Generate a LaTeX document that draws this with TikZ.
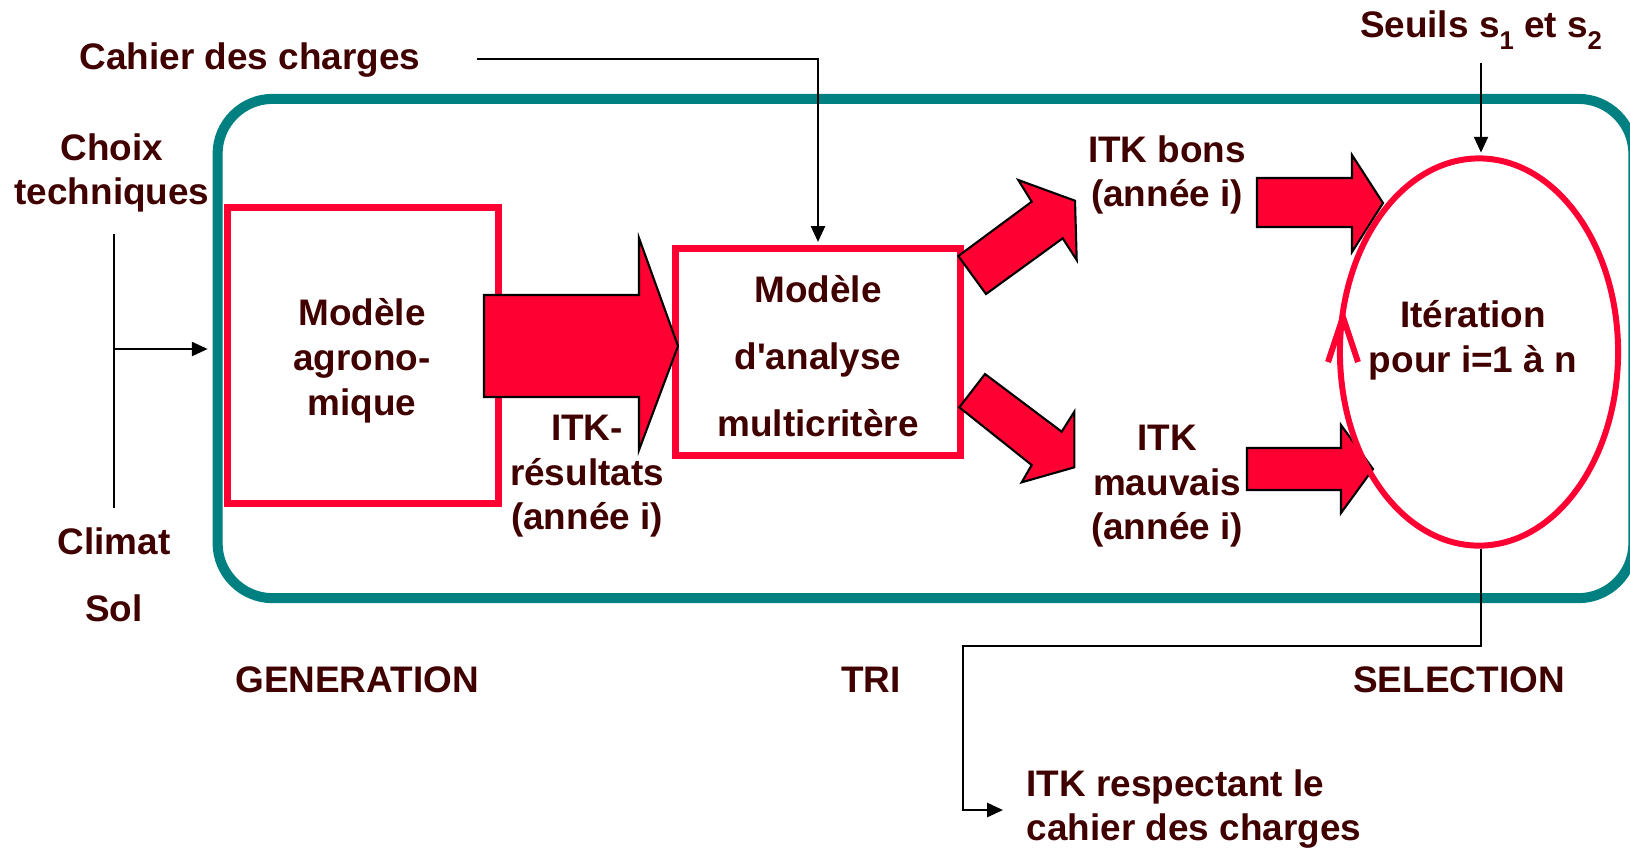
\documentclass[tikz,border=0pt]{standalone}
\usepackage{fontspec}
\setmainfont{Liberation Sans}
\usetikzlibrary{arrows.meta,shapes.geometric}
\definecolor{txt}{RGB}{64,0,0}
\definecolor{rouge}{RGB}{255,0,51}
\definecolor{tealc}{RGB}{0,128,128}
\newcommand{\subidx}[1]{\raisebox{-3.4pt}{\fontsize{7.3}{8}\selectfont #1}}
\begin{document}
\begin{tikzpicture}[x=0.01cm,y=-0.01cm,
  lbl/.style={font=\fontsize{10.5}{12.6}\selectfont\bfseries, text=txt, align=center, inner sep=0pt, yshift=-0.9pt},
  redbox/.style={draw=rouge, line width=2pt, inner sep=0pt},
  arr/.style={line width=0.6pt, -{Triangle[length=4.5pt,width=4pt]}},
  blk/.style={fill=rouge, draw=black, line width=0.6pt, line join=miter},
]
\useasboundingbox (0,0) rectangle (1630,847);
\clip (0,0) rectangle (1630,847);

% outer teal frame
\node[draw=tealc, line width=2.85pt, rounded corners=0.55cm, minimum width=14.15cm, minimum height=4.99cm, inner sep=0pt] (gen) at (925.5,348.5) {};

% red boxes
\node[redbox, minimum width=2.7cm, minimum height=2.95cm] (agro) at (363,355.5) {};
\node[lbl, font=\fontsize{10.5}{12.8}\selectfont\bfseries] (agrotxt) at (362,358) {Modèle\\agrono-\\mique};
\node[redbox, minimum width=2.84cm, minimum height=2.06cm] (multi) at (818,352) {};
\node[lbl, font=\fontsize{10.5}{19}\selectfont\bfseries] (multitxt) at (818,353) {Modèle\\d\textquotesingle analyse\\multicritère};

% block arrows
\draw[blk] (484,295) -- (639,295) -- (639,238) -- (678,346) -- (639,450) -- (639,397) -- (484,397) -- cycle;
\draw[blk] (958.3,256) -- (1031.7,201.7) -- (1018.3,180) -- (1075,200.7) -- (1076.7,260) -- (1062.7,238.3) -- (986,294) -- cycle;
\draw[blk] (985,374) -- (1061.7,431.7) -- (1074.3,411.7) -- (1074.3,467.3) -- (1021.7,482.3) -- (1031.7,465) -- (959.3,407.3) -- cycle;
\draw[blk] (1257,178) -- (1352,178) -- (1352,155) -- (1383,203) -- (1352,252) -- (1352,227) -- (1257,227) -- cycle;
\draw[blk] (1247,448) -- (1341,448) -- (1341,425) -- (1373,469) -- (1341,513) -- (1341,490) -- (1247,490) -- cycle;

% selection ellipse
\node[draw=rouge, line width=1.7pt, ellipse, minimum width=2.78cm, minimum height=3.87cm, inner sep=0pt] (sel) at (1479,352) {};
\draw[rouge, line width=1.7pt, line join=miter] (1328,362) -- (1343,317) -- (1358,362);
\node[lbl] (itertxt) at (1473,337) {Itération\\pour i=1 à n};

% texts
\node[lbl] (cahier) at (250,57) {Cahier des charges};
\node[lbl] (seuils) at (1481,27) {Seuils s\subidx{1} et s\subidx{2}};
\node[lbl] (choix) at (112,170) {Choix\\techniques};
\node[lbl] (climat) at (114,538) {Climat};
\node[lbl] (sol) at (114,605) {Sol};
\node[lbl] (itkres) at (587,473) {ITK-\\résultats\\(année i)};
\node[lbl] (bons) at (1167,172) {ITK bons\\(année i)};
\node[lbl] (mauvais) at (1167,483) {ITK\\mauvais\\(année i)};
\node[lbl] (tgen) at (357,677) {GENERATION};
\node[lbl] (ttri) at (871,677) {TRI};
\node[lbl] (tsel) at (1459,677) {SELECTION};
\node[lbl, align=left, anchor=west] (res) at (1026,806) {ITK respectant le\\cahier des charges};

% connectors
\coordinate (ctop) at (114,234);
\coordinate (cbot) at (114,508);
\coordinate (cj) at (114,349);
\draw[line width=0.6pt] (ctop) -- (cbot);
\draw[arr, shorten >=1.4pt] (cj) -- (cj -| gen.west);

\coordinate (cs) at (477,59);
\draw[arr, shorten >=1pt] (cs) -| (multi.north);

\coordinate (ss) at (1481,63);
\draw[arr, shorten >=0.8pt] (ss) -- (ss |- sel.north);

\coordinate (b1) at (963,646);
\coordinate (b2) at (1003,810);
\draw[arr] (sel.south -| ss) |- (b1) |- (b2);
\end{tikzpicture}
\end{document}
